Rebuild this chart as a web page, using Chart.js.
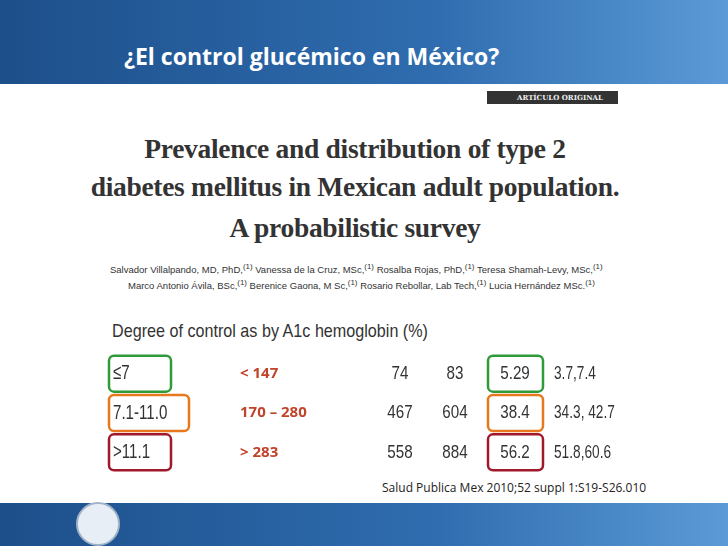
<!DOCTYPE html>
<html><head><meta charset="utf-8">
<script src="https://cdn.jsdelivr.net/npm/chart.js@4.4.0/dist/chart.umd.min.js"></script>
<style>
body{margin:0;width:728px;height:546px;overflow:hidden;background:#fff;font-family:"Open Sans",sans-serif;position:relative}
#top{position:absolute;left:0;top:0;width:728px;height:84px;background:linear-gradient(90deg,#1d4f8a,#2f6db0 60%,#5b9ad6)}
#title{position:absolute;left:124px;top:40px;color:#fff;font:bold 23px "Open Sans",sans-serif}
#bot{position:absolute;left:0;top:503px;width:728px;height:43px;background:linear-gradient(90deg,#1d4f8a,#2f6db0 60%,#5b9ad6)}
#logo{position:absolute;left:76px;top:502px;width:40px;height:40px;border-radius:50%;background:#e8eef5;border:2px solid #9fb3c8}
#art{position:absolute;left:487px;top:91px;width:131px;height:13px;background:#333;color:#eee;font:bold 7px "DejaVu Serif",serif;line-height:13px;padding-left:30px;box-sizing:border-box}
.ttl{position:absolute;left:88px;width:534px;text-align:center;font:bold 27.5px "Liberation Serif",serif;color:#333;white-space:nowrap;letter-spacing:-0.3px}
.auth{position:absolute;left:110px;font:9.5px "Liberation Sans",sans-serif;color:#333;white-space:nowrap}
#deg{position:absolute;left:112px;top:320px;font:19px "Liberation Sans",sans-serif;color:#333;transform:scaleX(0.85);transform-origin:left}
#cite{position:absolute;left:382px;top:479px;font:12px "Open Sans",sans-serif;color:#222}
#cw{position:absolute;left:88px;top:352px;width:560px;height:122px}
</style></head><body>
<div id="top"></div><div id="title">¿El control glucémico en México?</div>
<div id="art">ARTÍCULO ORIGINAL</div>
<div class="ttl" style="top:133px">Prevalence and distribution of type 2</div>
<div class="ttl" style="top:171px">diabetes mellitus in Mexican adult population.</div>
<div class="ttl" style="top:212px">A probabilistic survey</div>
<div class="auth" style="top:262px">Salvador Villalpando, MD, PhD,<sup>(1)</sup> Vanessa de la Cruz, MSc,<sup>(1)</sup> Rosalba Rojas, PhD,<sup>(1)</sup> Teresa Shamah-Levy, MSc,<sup>(1)</sup></div>
<div class="auth" style="top:278px;left:128px">Marco Antonio Ávila, BSc,<sup>(1)</sup> Berenice Gaona, M Sc,<sup>(1)</sup> Rosario Rebollar, Lab Tech,<sup>(1)</sup> Lucia Hernández MSc.<sup>(1)</sup></div>
<div id="deg">Degree of control as by A1c hemoglobin (%)</div>
<div id="cw"><canvas id="c"></canvas></div>
<div id="cite">Salud Publica Mex 2010;52 suppl 1:S19-S26.010</div>
<div id="bot"></div><div id="logo"></div>
<script>
const categories=["≤7","7.1-11.0",">11.1"];
const glucose=["< 147","170 – 280","> 283"];
const colA=[74,467,558];
const colB=[83,604,884];
const percent=["5.29","38.4","56.2"];
const ci=["3.7,7.4","34.3, 42.7","51.8,60.6"];
const boxColors=["#2e9a3a","#e8781e","#a0182a"];
const labelColor="#c0432a";
const colX=[25,152,312,367,422,466];
function cond(c,t,x,y,s,align){c.save();c.translate(x,y);c.scale(s,1);c.textAlign=align;c.fillText(t,0,0);c.restore();}
const tablePlugin={id:'tbl',afterDraw(ch){
 const c=ch.ctx,x=ch.scales.x,y=ch.scales.y;
 categories.forEach((cat,i)=>{
  const py=y.getPixelForValue(i);
  c.textBaseline='middle';c.fillStyle='#333';
  c.font='21px "Liberation Sans",sans-serif';
  cond(c,cat,x.getPixelForValue(colX[0]),py,0.72,'left');
  c.font='bold 15px "Open Sans",sans-serif';c.fillStyle=labelColor;
  c.textAlign='left';c.fillText(glucose[i],x.getPixelForValue(colX[1]),py);
  c.fillStyle='#333';c.font='19px "Liberation Sans",sans-serif';
  cond(c,String(colA[i]),x.getPixelForValue(colX[2]),py,0.8,'center');
  cond(c,String(colB[i]),x.getPixelForValue(colX[3]),py,0.8,'center');
  cond(c,percent[i],x.getPixelForValue(colX[4])+5,py,0.8,'center');
  cond(c,ci[i],x.getPixelForValue(colX[5]),py,0.72,'left');
  c.strokeStyle=boxColors[i];c.lineWidth=2.5;
  const w=i==1?80:62;
  c.beginPath();c.roundRect(x.getPixelForValue(colX[0])-4,py-18,w,36,5);c.stroke();
  c.beginPath();c.roundRect(x.getPixelForValue(colX[4])-22,py-18,55,36,5);c.stroke();
 });
}};
new Chart(document.getElementById('c'),{type:'scatter',data:{datasets:[{data:[]}]},
 options:{responsive:true,maintainAspectRatio:false,animation:false,layout:{padding:0},
  plugins:{legend:{display:false},tooltip:{enabled:false}},
  scales:{x:{type:'linear',min:0,max:560,display:false},y:{type:'linear',min:-0.55,max:2.55,reverse:true,display:false}}},
 plugins:[tablePlugin]});
</script></body></html>
